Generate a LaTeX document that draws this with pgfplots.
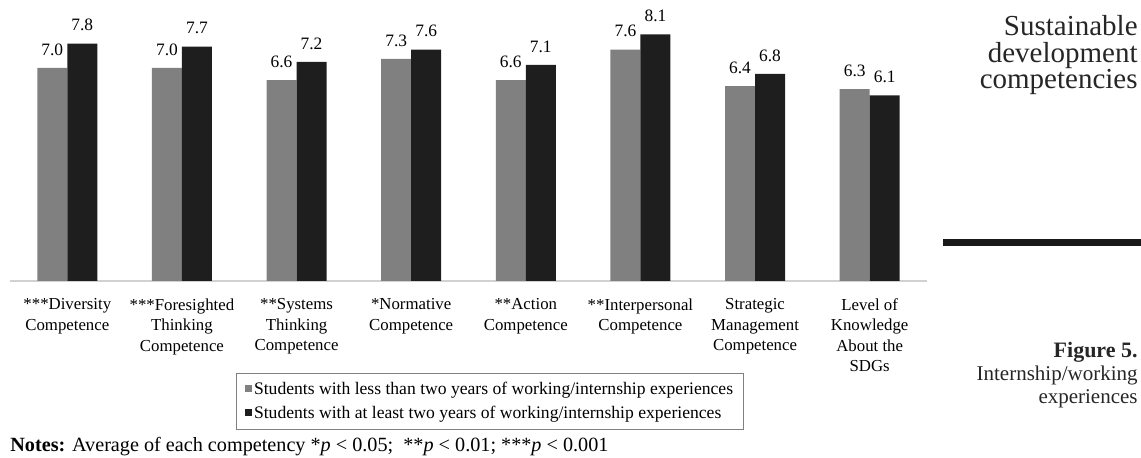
\documentclass[border=0pt]{standalone}
\usepackage{fontspec}
\setmainfont{Liberation Serif}
\usepackage{pgfplots}
\pgfplotsset{compat=1.18}
\definecolor{bargray}{HTML}{808080}
\definecolor{barblack}{HTML}{1E1E1E}
\begin{document}
\begin{tikzpicture}
\useasboundingbox (0,0) rectangle (570.5pt,-229pt);
\begin{axis}[
  at={(5pt,-140.5pt)}, anchor=south west,
  scale only axis, width=458.5pt, height=137pt,
  xmin=-0.5, xmax=7.5, ymin=0, ymax=9,
  ybar=0pt, bar width=15pt,
  axis y line=none, axis x line*=bottom,
  x axis line style={-, draw=black!18, line width=0.6pt},
  xtick={0,...,7}, major tick length=0pt,
  xticklabels={{***Diversity\\Competence},{***Foresighted\\Thinking\\Competence},{**Systems\\Thinking\\Competence},{*Normative\\Competence},{**Action\\Competence},{**Interpersonal\\Competence},{Strategic\\Management\\Competence},{Level of\\Knowledge\\About the\\SDGs}},
  xticklabel style={align=center, font=\fontsize{8.4}{10.25}\selectfont, inner sep=0pt, anchor=north, yshift=-8.5pt},
  nodes near coords={\pgfmathprintnumber[fixed,fixed zerofill,precision=1,assume math mode=true]{\pgfplotspointmeta}},
  every node near coord/.append style={font=\fontsize{8.7}{10}\selectfont, inner sep=0pt, yshift=6pt, text=black},
  legend style={at={(0.2465,-0.3358)}, anchor=north west, draw=black!50, line width=0.5pt,
    font=\fontsize{8.8}{11}\selectfont, inner xsep=4pt, inner ysep=1.75pt, row sep=0pt,
    nodes={inner sep=1.25pt, text height=1.6ex, text depth=0.5ex}},
  legend cell align=left,
  legend image code/.code={\fill[#1] (0pt,-1.2pt) rectangle (3.5pt,2.3pt);},
]
\addplot[fill=bargray, draw=none] coordinates {(0,7.0) (1,7.0) (2,6.6) (3,7.3) (4,6.6) (5,7.6) (6,6.4) (7,6.3)};
\addplot[fill=barblack, draw=none] coordinates {(0,7.8) (1,7.7) (2,7.2) (3,7.6) (4,7.1) (5,8.1) (6,6.8) (7,6.1)};
\legend{Students with less than two years of working/internship experiences, Students with at least two years of working/internship experiences}
\end{axis}
\begin{scope}[every node/.style={inner sep=0pt, text=black!85}]
\node[anchor=base east, font=\fontsize{14.5}{13}\selectfont] at (569pt,-18pt) {Sustainable};
\node[anchor=base east, font=\fontsize{14.5}{13}\selectfont] at (569pt,-31.25pt) {development};
\node[anchor=base east, font=\fontsize{14.5}{13}\selectfont] at (569pt,-44.5pt) {competencies};
\fill[black!90] (471.5pt,-119.5pt) rectangle (570.5pt,-123pt);
\node[anchor=base east, font=\fontsize{11}{11}\selectfont\bfseries] at (569pt,-179pt) {Figure 5.};
\node[anchor=base east, font=\fontsize{10.5}{11}\selectfont] at (569pt,-190.5pt) {Internship/working};
\node[anchor=base east, font=\fontsize{10.5}{11}\selectfont] at (569pt,-202pt) {experiences};
\node[anchor=base west, font=\fontsize{10.1}{11}\selectfont, text=black] at (5pt,-226pt) {\textbf{Notes:} Average of each competency *\textit{p} < 0.05;\ \ **\textit{p} < 0.01; ***\textit{p} < 0.001};
\end{scope}
\end{tikzpicture}
\end{document}
